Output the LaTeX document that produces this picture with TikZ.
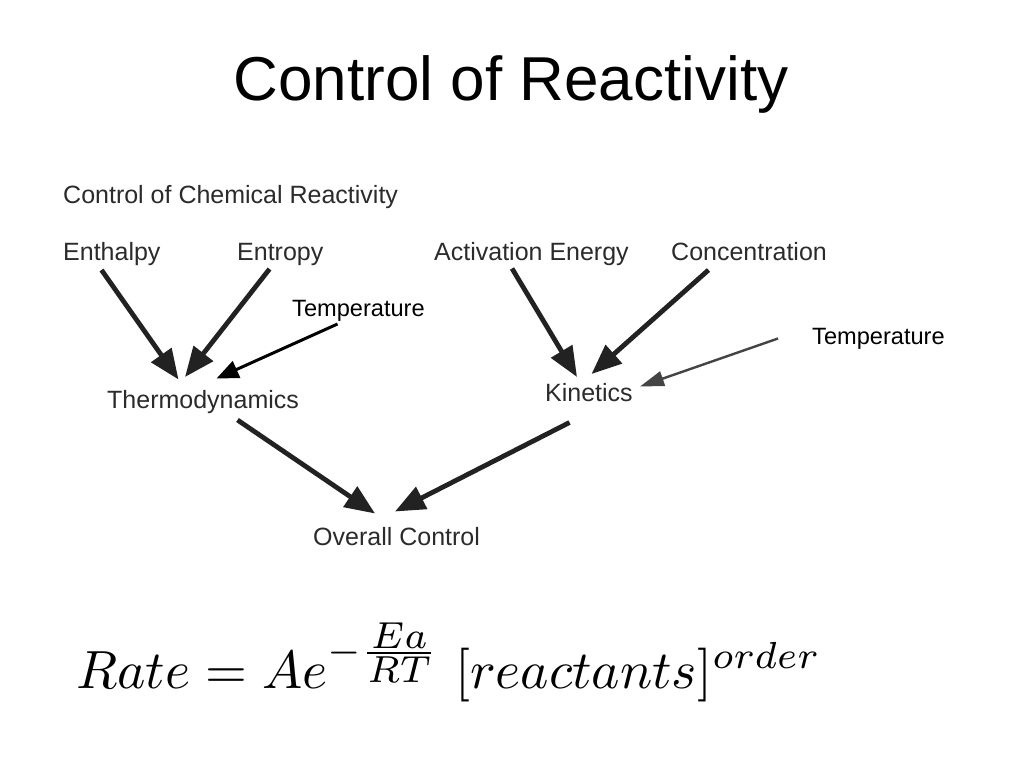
\documentclass[tikz,border=0pt]{standalone}
\usepackage{graphicx}
\usepackage[no-math]{fontspec}
\setmainfont{Liberation Sans}
\usetikzlibrary{arrows.meta}
\definecolor{txt}{HTML}{2B2B2B}
\definecolor{arr}{HTML}{222222}
\definecolor{arrgray}{HTML}{444444}
\begin{document}
\begin{tikzpicture}[x=1pt,y=-1pt,
  lbl/.style={inner sep=0pt,anchor=base west,text=txt,font=\fontsize{25}{30}\selectfont},
  tlbl/.style={inner sep=0pt,anchor=base west,text=black,font=\fontsize{23.6}{28}\selectfont},
  bigarrow/.style={draw=arr,line width=4.8pt,-{Triangle[length=30pt,width=24pt]}},
  midarrow/.style={draw=black,line width=3pt,-{Triangle[length=22pt,width=18pt]}},
  thinarrow/.style={draw=arrgray,line width=2.4pt,-{Triangle[length=24pt,width=15pt]}}]
\useasboundingbox[fill=white] (0,0) rectangle (1024,768);
% title
\node[inner sep=0pt,anchor=base] (title) at (511,100) {\fontsize{62}{70}\selectfont Control of Reactivity};
% labels
\node[lbl] (heading) at (63,203) {Control of Chemical Reactivity};
\node[lbl] (enthalpy) at (63,260) {Enthalpy};
\node[lbl] (entropy) at (237,260) {Entropy};
\node[lbl] (activation) at (434,260) {Activation Energy};
\node[lbl] (concentration) at (671,260) {Concentration};
\node[tlbl] (templeft) at (292,316) {Temperature};
\node[tlbl] (tempright) at (812,344) {Temperature};
\node[lbl] (thermo) at (107,408) {Thermodynamics};
\node[lbl] (kinetics) at (545,401) {Kinetics};
\node[lbl] (overall) at (313,545) {Overall Control};
% arrow end points
\coordinate (enthalpyOut) at (101.5,270);
\coordinate (entropyOut) at (269.5,269);
\coordinate (templeftOut) at (337.5,324);
\coordinate (thermoIn1) at (178.5,379.5);
\coordinate (thermoIn2) at (185,377);
\coordinate (thermoIn3) at (216.5,378.5);
\coordinate (activationOut) at (512,268.5);
\coordinate (concentrationOut) at (708.5,270);
\coordinate (temprightOut) at (778,338.5);
\coordinate (kineticsIn1) at (577,377);
\coordinate (kineticsIn2) at (591.5,374);
\coordinate (kineticsIn3) at (640,386.5);
\coordinate (thermoOut) at (237.5,420);
\coordinate (kineticsOut) at (569.5,422.5);
\coordinate (overallIn1) at (375,513.5);
\coordinate (overallIn2) at (395,511.5);
% arrows
\draw[bigarrow] (enthalpyOut) -- (thermoIn1);
\draw[bigarrow] (entropyOut) -- (thermoIn2);
\draw[midarrow] (templeftOut) -- (thermoIn3);
\draw[bigarrow] (activationOut) -- (kineticsIn1);
\draw[bigarrow] (concentrationOut) -- (kineticsIn2);
\draw[thinarrow] (temprightOut) -- (kineticsIn3);
\draw[bigarrow] (thermoOut) -- (overallIn1);
\draw[bigarrow] (kineticsOut) -- (overallIn2);
% formula
\node[inner sep=0pt,anchor=base west] (formula) at (76,688)
  {\resizebox{745pt}{!}{$Rate = Ae^{-\frac{\scriptstyle Ea}{\scriptstyle RT}}\;[reactants]^{order}$}};
\end{tikzpicture}
\end{document}
